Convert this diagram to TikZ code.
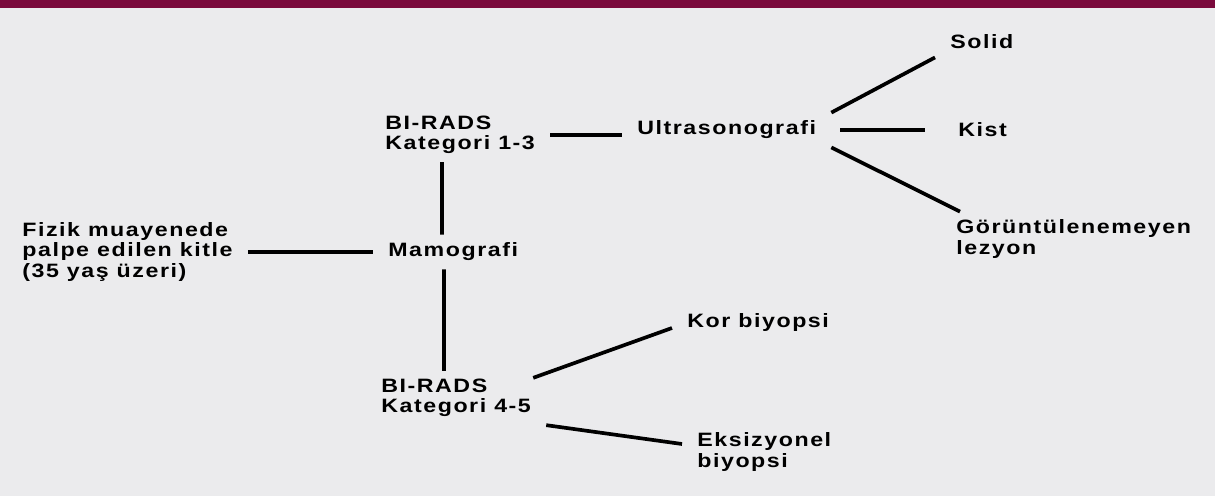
\documentclass[tikz,border=0pt]{standalone}
\usepackage{fontspec}
\setmainfont{Liberation Sans}[FakeStretch=1.2, LetterSpace=8]
\usepackage{xcolor}
\usepackage{tikz}
\usetikzlibrary{positioning}

\definecolor{barcol}{HTML}{7A0A3C}
\definecolor{bgcol}{HTML}{EBEBED}

\begin{document}
\begin{tikzpicture}[
			x=0.2mm, y=-0.2mm,
			lbl/.style={
				anchor=west,
				align=left,
				inner xsep=3mm,
				inner ysep=1.6mm,
				font=\fontsize{11pt}{11.4pt}\selectfont\bfseries
			},
			link/.style={line width=2.1pt}
			]
			
			% -------------------------------
			% ARKA PLAN
			% -------------------------------
			\fill[bgcol] (0,0) rectangle (1215,496);
			\fill[barcol] (0,0) rectangle (1215,8);
			
			% -------------------------------
			% BASLANGIC
			% -------------------------------
			\node[lbl] (fizik) at (7,252) {Fizik muayenede\\palpe edilen kitle\\(35 yaş üzeri)};
			\node[lbl, right=73.2mm of fizik.west] (mamo) {Mamografi};
			
			% -------------------------------
			% BI-RADS 1-3
			% -------------------------------
			\node[lbl] (b13) at (370,135) {BI-RADS\\Kategori 1-3};
			\node[lbl] (ultra) at (622,130) {Ultrasonografi};
			\node[lbl] (solid) at (935,42) {Solid};
			\node[lbl, right=64.2mm of ultra.west] (kist) {Kist};
			\node[lbl] (gor) at (941,239) {Görüntülenemeyen\\lezyon};
			
			% -------------------------------
			% BI-RADS 4-5
			% -------------------------------
			\node[lbl] (b45) at (366,398) {BI-RADS\\Kategori 4-5};
			\node[lbl] (kor) at (672,323) {Kor biyopsi};
			\node[lbl] (eks) at (682,452) {Eksizyonel\\biyopsi};
			
			% -------------------------------
			% CIZGILER
			% -------------------------------
			\draw[link] (fizik.east) -- (mamo.west);
			\draw[link] ([xshift=14.4mm]b13.south west) -- ([xshift=13.8mm]mamo.north west);
			\draw[link] ([xshift=14.2mm]mamo.south west) -- ([xshift=15.6mm]b45.north west);
			
			\draw[link] (b13.east) -- (b13.east -| ultra.west);
			\draw[link] (ultra.north east) -- (solid.south west);
			\draw[link, shorten <=1.8mm, shorten >=3.6mm] (ultra.east) -- (kist.west);
			\draw[link] (ultra.south east) -- ([xshift=3.8mm]gor.north west);
			
			\draw[link] ([shift={(-2.6mm,-1.4mm)}]b45.north east) -- (kor.base west);
			\draw[link] (b45.south east) -- ([yshift=1.6mm]eks.west);
			
		\end{tikzpicture}
\end{document}
